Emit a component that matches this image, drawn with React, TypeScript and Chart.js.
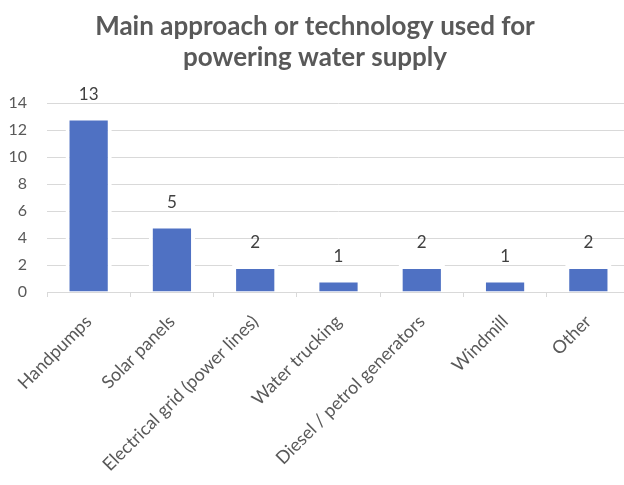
import React, { useEffect, useRef } from "react";
import { Chart, registerables } from "chart.js";

Chart.register(...registerables);

const categories = [
  "Handpumps",
  "Solar panels",
  "Electrical grid (power lines)",
  "Water trucking",
  "Diesel / petrol generators",
  "Windmill",
  "Other",
];
const counts = [13, 5, 2, 1, 2, 1, 2];
const titleLines = ["Main approach or technology used for", "powering water supply"];
const yMin = 0;
const yMax = 14;
const yStep = 2;

const FONT = "Lato, 'Open Sans', sans-serif";
const AXIS_TEXT = "#595959";
const LABEL_TEXT = "#404040";
const GRID = "#d9d9d9";
const BAR = "#4F71C3";

const W = 630;
const H = 485;

// Value labels above each bar
const valueLabels = {
  id: "valueLabels",
  afterDatasetsDraw(chart: any) {
    const { ctx } = chart;
    const meta = chart.getDatasetMeta(0);
    ctx.save();
    ctx.font = `17px ${FONT}`;
    ctx.fillStyle = LABEL_TEXT;
    ctx.textAlign = "center";
    ctx.textBaseline = "middle";
    meta.data.forEach((bar: any, i: number) => {
      ctx.fillText(String(counts[i]), bar.x, bar.y - 22);
    });
    ctx.restore();
  },
};

export default function App() {
  const ref = useRef<HTMLCanvasElement | null>(null);

  useEffect(() => {
    if (!ref.current) return;
    const chart = new Chart(ref.current, {
      type: "bar",
      data: {
        labels: categories,
        datasets: [
          {
            data: counts,
            backgroundColor: BAR,
            borderColor: "#ffffff",
            borderWidth: 4,
            borderSkipped: "start",
            categoryPercentage: 1,
            barPercentage: 0.555,
          },
        ],
      },
      options: {
        responsive: false,
        animation: false,
        devicePixelRatio: 1,
        layout: { padding: 0 },
        plugins: {
          legend: { display: false },
          tooltip: { enabled: false },
          title: {
            display: true,
            text: titleLines,
            color: AXIS_TEXT,
            font: { family: FONT, size: 26, weight: "bold", lineHeight: 31 / 26 },
            padding: { top: 11, bottom: 30 },
          },
        },
        scales: {
          x: {
            grid: {
              display: true,
              offset: true,
              drawOnChartArea: false,
              drawTicks: true,
              tickLength: 5,
              color: GRID,
            },
            border: { display: true, color: GRID, width: 1 },
            ticks: {
              autoSkip: false,
              maxRotation: 45,
              minRotation: 45,
              padding: 14,
              color: AXIS_TEXT,
              font: { family: FONT, size: 18 },
            },
            afterFit(scale: any) {
              scale.height = H - 292;
              scale.paddingLeft = 0;
              scale.paddingRight = 0;
            },
          },
          y: {
            min: yMin,
            max: yMax,
            grid: { color: GRID, drawTicks: false },
            border: { display: false },
            ticks: {
              stepSize: yStep,
              padding: 20,
              color: AXIS_TEXT,
              font: { family: FONT, size: 16 },
            },
            afterFit(scale: any) {
              scale.width = 47;
            },
          },
        },
      },
      plugins: [valueLabels],
    });
    return () => chart.destroy();
  }, []);

  return (
    <div
      style={{
        position: "fixed",
        left: 0,
        top: 0,
        width: 624,
        height: 485,
        overflow: "hidden",
        background: "#ffffff",
      }}
    >
      <canvas ref={ref} width={W} height={H} style={{ display: "block", width: W, height: H }} />
    </div>
  );
}
